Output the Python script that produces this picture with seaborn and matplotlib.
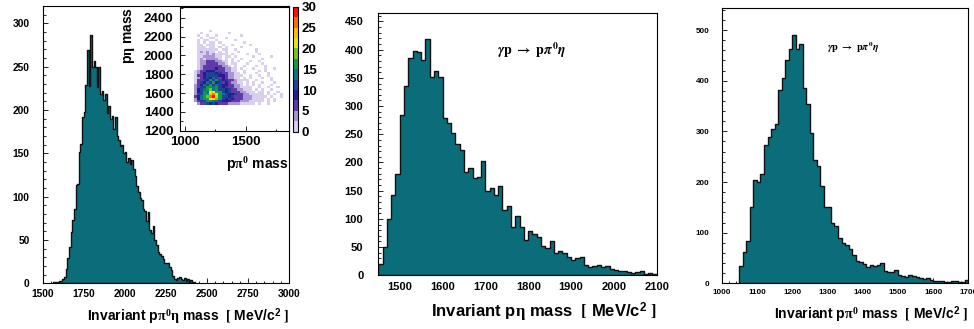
import matplotlib
matplotlib.use("Agg")
import matplotlib.pyplot as plt
from matplotlib.colors import ListedColormap
from matplotlib.ticker import MultipleLocator
import numpy as np
import pandas as pd
import seaborn as sns

# --- histogram contents (counts per 10 MeV bin) ---
bin_width = 10

# invariant p pi0 eta mass, first bin starts at 1560 MeV
ppi0eta_first = 1560
ppi0eta_counts = [
    1, 1, 2, 2, 3, 3, 5, 7,
    17, 29, 42, 59, 73, 86, 113, 115, 152, 161,
    192, 198, 229, 269, 228, 287, 250, 256, 250, 226,
    250, 218, 222, 212, 218, 196, 205, 190, 193, 178,
    192, 170, 165, 158, 160, 150, 152, 140, 145, 138,
    142, 132, 124, 112, 105, 98, 96, 86, 84, 72,
    82, 62, 58, 66, 50, 44, 36, 34, 31, 28,
    24, 24, 23, 19, 15, 8, 5, 4, 6, 7,
    5, 4, 6, 3, 5, 2, 4, 2, 1,
]

# invariant p eta mass, first bin starts at 1450 MeV
peta_first = 1450
peta_counts = [
    20, 50, 100, 142, 180, 285, 335, 385, 397, 396,
    382, 419, 352, 362, 352, 278, 270, 252, 232, 222,
    183, 190, 172, 175, 202, 150, 154, 142, 159, 115,
    122, 85, 106, 85, 62, 79, 74, 68, 52, 48,
    61, 40, 43, 40, 33, 27, 30, 32, 18, 15,
    16, 18, 15, 17, 11, 10, 8, 8, 5, 4,
    5, 7, 3, 4, 3,
]

# invariant p pi0 mass, first bin starts at 1050 MeV
ppi0_first = 1050
ppi0_counts = [
    35, 61, 84, 150, 204, 201, 215, 274, 289, 305,
    314, 382, 406, 440, 462, 491, 463, 472, 385, 354,
    296, 243, 232, 192, 151, 151, 120, 114, 90, 79,
    76, 67, 56, 45, 43, 39, 33, 36, 35, 37,
    41, 25, 23, 22, 26, 16, 15, 13, 17, 15,
    12, 10, 8, 11, 7, 5, 5, 4, 3, 3,
    4, 4, 3, 2, 6,
]

# Dalitz plot (p pi0 mass vs p eta mass), 25 MeV cells.
# one string per row, top row first; '.' = 0, '1'..'9', 'a'=10 ... 'u'=30
dalitz_x_first = 1050
dalitz_y_first = 1475
dalitz_cell = 25
dalitz_ncols = 32
dalitz_rows = [
    "......1",
    "...1........1",
    "..1..1..1.......1",
    "...1..11...1",
    "..1.12..1.....1",
    "..1.1.21.1.......1",
    "..12.112..1..1.....1",
    "..212.21.1.1....1",
    "..2121221.11..1......1",
    "..132312.1.1...1.....1",
    "..1223231211.1....1...1",
    "..22333421.21.1.....1.....1",
    "..13243332.1.1..1......1",
    "..1345654421.1.1...1..1",
    "..2446565431.21...1....1",
    "..14557665432.1..1...1..1",
    "..2356778764321.1...1...1..1",
    ".13568997654321..1....1.1",
    ".2468aab9a754321.1...1...1",
    ".2579bacb98643211..1..1..1",
    ".2469b8da7854321.1.1...1..1",
    ".257a9gcfa8a6532211..1....1",
    ".26a8ecg9b7854322.1.1..1...1",
    ".359dbhcea9865432.1.1.1...1",
    ".37bcfhdgb9a65432211..1..1..1",
    ".48aegiehcb8a6543221.1.1..1",
    ".39bfdkmhfa9b76543221.11.1..1",
    ".4acfhnqkgdb98a654322111.1.1.1",
    ".59egjruohca9a76543322211.1..1",
    ".48dfhmlifb9a87654332211.1.1",
    ".36acfheda89876543322211.1.1",
    "..357a8b9765443322211.1..1",
]
level_chars = "0123456789abcdefghijklmnopqrstu"

# palette of the colz plot, 0..30 in steps of 2.5
palette_colors = ["#d9cfee", "#a994d6", "#5f3aa8", "#2c1a92", "#1d4596", "#0d7382",
                  "#129a52", "#7cc41a", "#e6e612", "#ffbe00", "#ff7000", "#ff1000"]

fill_color = "#0b6d79"
edge_color = "#111111"

# set plot style
sns.set_style("ticks")
plt.rcParams["font.family"] = ["Liberation Sans", "DejaVu Sans"]
plt.rcParams["font.weight"] = "bold"
plt.rcParams["axes.labelweight"] = "bold"
plt.rcParams["mathtext.fontset"] = "custom"
plt.rcParams["mathtext.rm"] = "Liberation Serif"
plt.rcParams["mathtext.it"] = "Liberation Serif"
plt.rcParams["mathtext.bf"] = "Liberation Sans:bold"
plt.rcParams["axes.edgecolor"] = "black"
plt.rcParams["axes.linewidth"] = 0.8
plt.rcParams["text.color"] = "black"
plt.rcParams["axes.labelcolor"] = "black"
plt.rcParams["xtick.color"] = "black"
plt.rcParams["ytick.color"] = "black"


def draw_hist(ax, first, counts):
    n = len(counts)
    df = pd.DataFrame({"mass": first + bin_width * (np.arange(n) + 0.5),
                       "count": counts})
    sns.histplot(data=df, x="mass", weights="count", binwidth=bin_width,
                 binrange=(first, first + bin_width * n), element="step", fill=True,
                 color=fill_color, alpha=1, edgecolor=edge_color, linewidth=1.0, ax=ax)
    ax.set_ylabel("")


def style_axes(ax, xlim, ylim, xmaj, xmin, ymaj, ymin, fs, xpad, ypad):
    ax.set_xlim(*xlim)
    ax.set_ylim(*ylim)
    ax.xaxis.set_major_locator(MultipleLocator(xmaj))
    ax.xaxis.set_minor_locator(MultipleLocator(xmin))
    ax.yaxis.set_major_locator(MultipleLocator(ymaj))
    ax.yaxis.set_minor_locator(MultipleLocator(ymin))
    ax.tick_params(which="both", direction="in", top=False, right=False,
                   bottom=True, left=True, labelsize=fs, width=0.6,
                   color="black", labelcolor="black")
    ax.tick_params(which="major", length=3.6)
    ax.tick_params(which="minor", length=1.8)
    ax.tick_params(axis="x", which="both", pad=xpad)
    ax.tick_params(axis="y", which="both", pad=ypad)
    for lab in ax.get_xticklabels() + ax.get_yticklabels():
        lab.set_fontweight("bold")


fig = plt.figure(figsize=(9.74, 3.29), dpi=100)
ax1 = fig.add_axes([0.0438, 0.1389, 0.2529, 0.8429])
ax2 = fig.add_axes([0.3884, 0.1632, 0.2858, 0.7973])
ax3 = fig.add_axes([0.7410, 0.1389, 0.2532, 0.8359])
axin = fig.add_axes([0.1851, 0.6027, 0.1113, 0.3775])
cax = fig.add_axes([0.3011, 0.5997, 0.0051, 0.3800])

# --- panel 1: p pi0 eta ---
draw_hist(ax1, ppi0eta_first, ppi0eta_counts)
style_axes(ax1, (1500, 3000), (0, 320), 250, 50, 50, 10, 7.4, 3.9, 9.4)
ax1.set_xlabel(r"Invariant p$\pi^{0}\eta$ mass  $[$ MeV/c$^{\mathbf{2}}$ $]$",
               fontsize=10, loc="right")
ax1.xaxis.set_label_coords(1.0, -0.1205)
ax1.xaxis.label.set_va("center")

# --- panel 2: p eta ---
draw_hist(ax2, peta_first, peta_counts)
style_axes(ax2, (1450, 2100), (0, 465), 100, 20, 50, 10, 8, 4.5, 10.8)
ax2.set_xlabel(r"Invariant p$\eta$ mass  $[$ MeV/c$^{\mathbf{2}}$ $]$",
               fontsize=12, loc="right")
ax2.xaxis.set_label_coords(1.0, -0.14)
ax2.xaxis.label.set_va("center")
ax2.text(0.55, 0.859, r"$\gamma\mathbf{p}\ \rightarrow\ \mathbf{p}\pi^{0}\eta$",
         transform=ax2.transAxes, ha="center", va="center", fontsize=10,
         math_fontfamily="stix")

# --- panel 3: p pi0 ---
draw_hist(ax3, ppi0_first, ppi0_counts)
style_axes(ax3, (1000, 1700), (0, 543), 100, 20, 100, 20, 5.8, 4.1, 9.1)
ax3.set_xlabel(r"Invariant p$\pi^{0}$ mass  $[$ MeV/c$^{\mathbf{2}}$ $]$",
               fontsize=10, loc="right")
ax3.xaxis.set_label_coords(1.0, -0.115)
ax3.xaxis.label.set_va("center")
ax3.text(0.532, 0.859, r"$\gamma\mathbf{p}\ \rightarrow\ \mathbf{p}\pi^{0}\eta$",
         transform=ax3.transAxes, ha="center", va="center", fontsize=7.5,
         math_fontfamily="stix")

# --- inset: Dalitz plot ---
dx, dy, dw = [], [], []
n_rows = len(dalitz_rows)
for i, row in enumerate(dalitz_rows):
    for j, ch in enumerate(row):
        if ch == ".":
            continue
        dx.append(dalitz_x_first + dalitz_cell * (j + 0.5))
        dy.append(dalitz_y_first + dalitz_cell * (n_rows - 1 - i + 0.5))
        dw.append(level_chars.index(ch))
dalitz = pd.DataFrame({"ppi0": dx, "peta": dy, "n": dw})

cmap = ListedColormap(palette_colors)
sns.histplot(data=dalitz, x="ppi0", y="peta", weights="n", binwidth=dalitz_cell,
             binrange=((dalitz_x_first, dalitz_x_first + dalitz_cell * dalitz_ncols),
                       (dalitz_y_first, dalitz_y_first + dalitz_cell * n_rows)),
             cmap=cmap, vmin=0, vmax=30, cbar=False, ax=axin)
mesh = axin.collections[0]
mesh.set_clim(0, 30)

axin.set_facecolor("white")
style_axes(axin, (962, 1850), (1200, 2520), 500, 250, 200, 100, 9.5, 4.0, 5.0)
axin.set_xlabel(r"p$\pi^{0}$ mass", fontsize=10, loc="right")
axin.xaxis.set_label_coords(1.0, -0.276)
axin.xaxis.label.set_va("center")
axin.set_ylabel(r"p$\eta$ mass", fontsize=10, loc="top")
axin.yaxis.set_label_coords(-0.40, 1.0)

cb = fig.colorbar(mesh, cax=cax)
cb.set_ticks(range(0, 31, 5))
cb.ax.tick_params(labelsize=9.5, direction="in", length=2, width=0.6, pad=2.5,
                  color="black", labelcolor="black")
for lab in cb.ax.get_yticklabels():
    lab.set_fontweight("bold")
cb.outline.set_linewidth(0.8)

fig.savefig("out.png", dpi=100)
